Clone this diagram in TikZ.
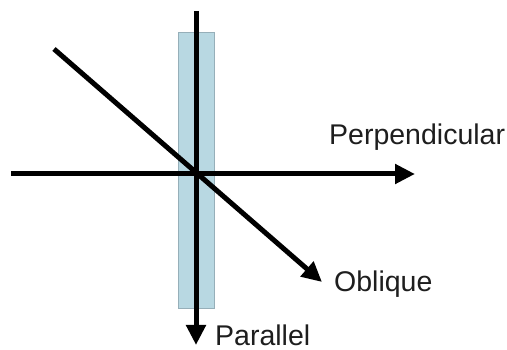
\documentclass[tikz,border=0pt]{standalone}
\usepackage{fontspec}
\setmainfont{Liberation Sans}
\usetikzlibrary{arrows.meta}
\definecolor{slab}{RGB}{184,216,226}
\definecolor{slabedge}{RGB}{150,175,185}
\definecolor{txt}{RGB}{30,30,30}
\begin{document}
\begin{tikzpicture}[x=1pt,y=-1pt,
  ray/.style={line width=5pt,-{Triangle[length=20pt,width=19pt]}},
  lbl/.style={text=txt,font=\fontsize{28.5}{31}\selectfont,inner sep=0pt,anchor=base west}]
\useasboundingbox (0,0) rectangle (507,350);
\fill[white] (0,0) rectangle (507,350);
\node[draw=slabedge,fill=slab,line width=0.8pt,minimum width=36pt,minimum height=276pt,inner sep=0pt] (plate) at (196,170) {};
\coordinate (vtop) at (196,11);
\coordinate (vend) at (196,345);
\coordinate (hstart) at (11,174);
\coordinate (hend) at (415,174);
\coordinate (ostart) at (54,49);
\coordinate (oend) at (322,282);
\draw[ray] (vtop) -- (vend);
\draw[ray] (hstart) -- (hend);
\draw[ray] (ostart) -- (oend);
\node[lbl] (perp) at (329,145) {Perpendicular};
\node[lbl] (obl) at (334,292) {Oblique};
\node[lbl] (par) at (215,345) {Parallel};
\end{tikzpicture}
\end{document}
